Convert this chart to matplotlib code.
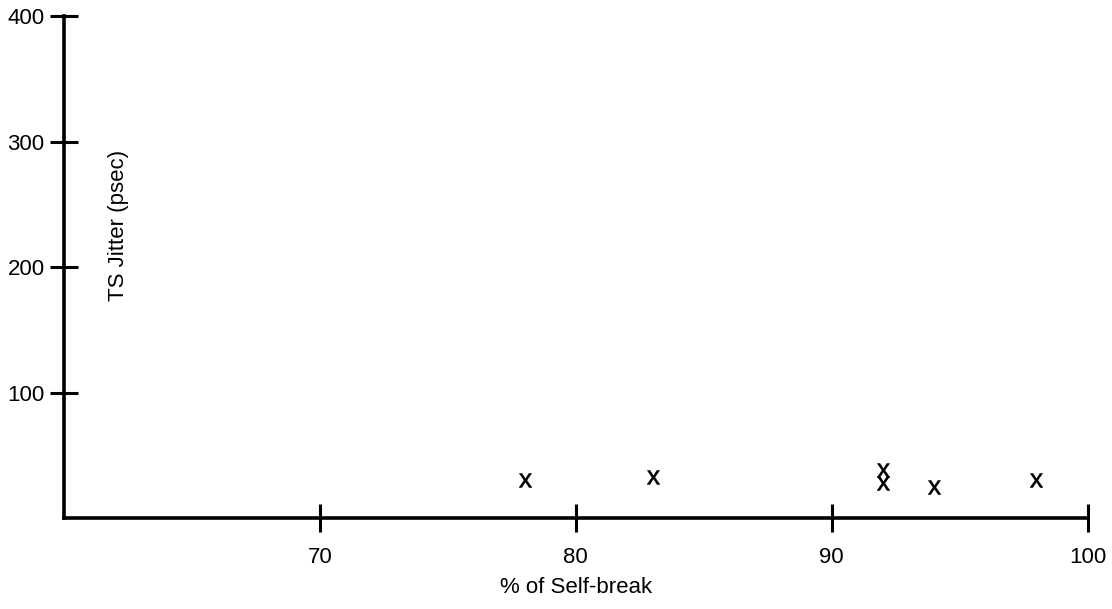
import numpy as np
import matplotlib.pyplot as plt

plt.rcParams['font.family'] = ['Liberation Sans', 'DejaVu Sans']
plt.rcParams['mathtext.fontset'] = 'custom'
plt.rcParams['mathtext.rm'] = 'Liberation Sans'

# data
self_break = [78, 83, 92, 92, 94, 98]
jitter = [30, 33, 38, 28, 25, 30]
xticks = [70, 80, 90, 100]
yticks = [100, 200, 300, 400]

fig = plt.figure(figsize=(11.12, 6.09), dpi=100)
ax = fig.add_axes([0.0576, 0.1494, 0.9204, 0.8243])

# points are drawn as a plain letter "x"
ax.plot(self_break, jitter, linestyle='none', marker=r'$\mathregular{x}$',
        markersize=10, color='black', markeredgewidth=0.4)

ax.set_xlim(60, 100)
ax.set_ylim(0, 400)
ax.set_xticks(xticks)
ax.set_yticks(yticks)
ax.tick_params(direction='inout', length=20, width=2.2, labelsize=16)
ax.tick_params(axis='x', pad=11)
ax.tick_params(axis='y', pad=4)

for side in ['top', 'right']:
    ax.spines[side].set_visible(False)
for side in ['left', 'bottom']:
    ax.spines[side].set_linewidth(2.6)

ax.set_xlabel('% of Self-break', fontsize=16, labelpad=6)
ax.text(0.053, 0.582, 'TS Jitter (psec)', rotation=90, transform=ax.transAxes,
        ha='center', va='center', fontsize=16)

fig.savefig('out.png', dpi=100)
